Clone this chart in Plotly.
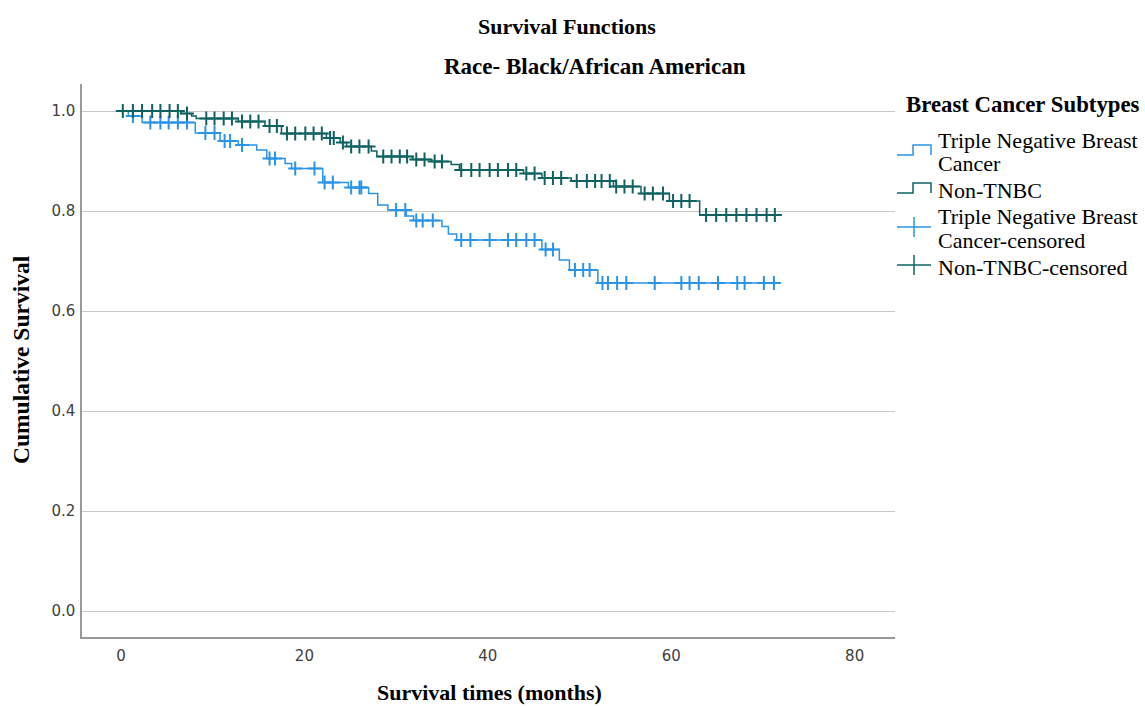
import plotly.graph_objects as go

# ---------------- data ----------------
tnbc_event_times = [0.8, 2.3, 8.1, 10.8, 12.8, 14.8, 15.9, 17.9, 18.6, 22.0, 24.8, 27.0, 28.0,
                    29.1, 31.1, 31.9, 35.0, 35.7, 36.6, 45.9, 47.8, 48.9, 52.0]
tnbc_surv = [0.990, 0.977, 0.956, 0.940, 0.932, 0.922, 0.905, 0.895, 0.885, 0.857, 0.847, 0.835, 0.812,
             0.802, 0.790, 0.781, 0.769, 0.754, 0.742, 0.723, 0.702, 0.682, 0.656]
tnbc_censor_times = [1.3, 3.2, 4.3, 5.2, 6.2, 7.2, 9.2, 10.2, 11.3, 11.9, 13.2, 16.2, 16.8, 19.0, 21.1,
                     22.2, 23.1, 25.1, 26.0, 26.2, 30.0, 31.0, 32.2, 32.9, 34.0, 37.1, 38.1, 40.2,
                     42.2, 43.1, 44.2, 45.1, 46.3, 47.1, 49.5, 50.4, 51.1, 52.5, 53.1, 54.1, 55.1,
                     58.2, 61.1, 62.0, 63.0, 65.1, 67.2, 68.0, 70.1, 71.2]

non_event_times = [6.5, 7.7, 8.2, 12.8, 15.7, 17.5, 22.4, 23.9, 24.6, 27.3, 27.9, 31.8, 33.9, 36.0,
                   36.9, 43.9, 45.9, 49.1, 53.7, 56.7, 59.8, 63.1]
non_surv = [0.995, 0.990, 0.985, 0.979, 0.970, 0.955, 0.946, 0.937, 0.929, 0.920, 0.909, 0.903, 0.899,
            0.893, 0.882, 0.875, 0.866, 0.860, 0.849, 0.835, 0.820, 0.792]
non_censor_times = [0.2, 1.3, 2.3, 3.4, 4.3, 5.3, 6.2, 7.2, 9.3, 10.2, 11.2, 12.1, 13.2, 14.1, 15.0,
                    16.2, 17.0, 18.1, 19.0, 20.1, 21.0, 21.9, 22.8, 23.2, 24.2, 25.1, 26.0, 27.0,
                    28.6, 29.5, 30.4, 31.2, 32.2, 33.1, 34.2, 35.0, 37.1, 38.2, 39.1, 40.2, 41.1,
                    42.2, 43.1, 44.2, 45.1, 46.2, 47.1, 48.0, 49.7, 50.8, 51.7, 52.4, 53.3, 54.0,
                    54.9, 55.8, 57.1, 58.0, 59.1, 60.2, 61.1, 62.0, 63.8, 64.9, 66.0, 67.1, 68.2,
                    69.3, 70.4, 71.3]

x_ticks = [0, 20, 40, 60, 80]
y_ticks = [0.0, 0.2, 0.4, 0.6, 0.8, 1.0]

legend_title = "Breast Cancer Subtypes"
legend_labels = [["Triple Negative Breast", "Cancer"],
                 ["Non-TNBC"],
                 ["Triple Negative Breast", "Cancer-censored"],
                 ["Non-TNBC-censored"]]

TNBC_COLOR = "#2a94e8"
NON_COLOR = "#0e6360"
SERIF = "Liberation Serif, Times New Roman, serif"
SANS = "DejaVu Sans, Verdana, sans-serif"

W, H = 1145, 707
ML, MR, MT, MB = 82, 250, 84, 70
PW, PH = W - ML - MR, H - MT - MB


def px_x(px):
    return (px - ML) / PW


def px_y(py):
    return (H - MB - py) / PH


def surv_at(t, times, surv):
    s = 1.0
    for ti, si in zip(times, surv):
        if ti <= t:
            s = si
    return s


def step_xy(times, surv, censors):
    end = max(censors + times)
    xs = [0.0] + list(times) + [end]
    ys = [1.0] + list(surv) + [surv[-1]]
    return xs, ys


fig = go.Figure()

tx, ty = step_xy(tnbc_event_times, tnbc_surv, tnbc_censor_times)
nx, ny = step_xy(non_event_times, non_surv, non_censor_times)

fig.add_trace(go.Scatter(x=tx, y=ty, mode="lines", line=dict(shape="hv", color=TNBC_COLOR, width=1.5),
                         name="Triple Negative Breast Cancer"))
fig.add_trace(go.Scatter(x=nx, y=ny, mode="lines", line=dict(shape="hv", color=NON_COLOR, width=1.5),
                         name="Non-TNBC"))
fig.add_trace(go.Scatter(x=tnbc_censor_times,
                         y=[surv_at(t, tnbc_event_times, tnbc_surv) for t in tnbc_censor_times],
                         mode="markers",
                         marker=dict(symbol="cross-thin", size=10, line=dict(color=TNBC_COLOR, width=2)),
                         name="Triple Negative Breast Cancer-censored"))
fig.add_trace(go.Scatter(x=non_censor_times,
                         y=[surv_at(t, non_event_times, non_surv) for t in non_censor_times],
                         mode="markers",
                         marker=dict(symbol="cross-thin", size=10, line=dict(color=NON_COLOR, width=2)),
                         name="Non-TNBC-censored"))

fig.update_layout(
    width=W, height=H,
    margin=dict(l=ML, r=MR, t=MT, b=MB),
    paper_bgcolor="white", plot_bgcolor="white",
    showlegend=False,
)


def label(text, px, py, size=22, bold=True, angle=0, xanchor="center"):
    fig.add_annotation(text=f"<b>{text}</b>" if bold else text, x=px_x(px), y=px_y(py),
                       xref="paper", yref="paper", showarrow=False, textangle=angle,
                       xanchor=xanchor, yanchor="middle",
                       font=dict(family=SERIF, size=size, color="black"))


label("Survival Functions", 567, 26, size=22)
label("Race- Black/African American", 595, 67, size=23)
label("Survival times (months)", 489, 692, size=22)
label("Cumulative Survival", 21, 360, size=23.5, angle=-90)

# ---------- manual legend (step / cross symbols like the original) ----------
label(legend_title, 904, 105, size=22.8, xanchor="left")
text_rows = [[140, 163], [190], [217, 240], [267]]
for lines, rows in zip(legend_labels, text_rows):
    for t, r in zip(lines, rows):
        label(t, 936, r, size=22, bold=False, xanchor="left")


def path_from(points):
    return "M " + " L ".join(f"{px_x(a)},{px_y(b)}" for a, b in points)


for yb, color in [(155, TNBC_COLOR), (193, NON_COLOR)]:
    fig.add_shape(type="path", xref="paper", yref="paper",
                  path=path_from([(897, yb), (913, yb), (913, yb - 10), (931, yb - 10), (931, yb)]),
                  line=dict(color=color, width=1.5))
for yc, color in [(227, TNBC_COLOR), (265, NON_COLOR)]:
    fig.add_shape(type="line", xref="paper", yref="paper",
                  x0=px_x(897), x1=px_x(931), y0=px_y(yc), y1=px_y(yc), line=dict(color=color, width=1.5))
    fig.add_shape(type="line", xref="paper", yref="paper",
                  x0=px_x(914), x1=px_x(914), y0=px_y(yc - 10), y1=px_y(yc + 10), line=dict(color=color, width=1.5))

fig.update_xaxes(range=[-4.25, 84.4], tickvals=x_ticks, ticktext=[str(v) for v in x_ticks],
                 showgrid=False, zeroline=False, showline=True, linecolor="#9a9a9a", linewidth=1.5,
                 ticks="outside", ticklen=4, tickcolor="rgba(0,0,0,0)",
                 tickfont=dict(family=SANS, size=15, color="#404040"))
fig.update_yaxes(range=[-0.052, 1.054], tickvals=y_ticks, ticktext=[f"{v:.1f}" for v in y_ticks],
                 showgrid=True, gridcolor="#c8c8c8", gridwidth=1.2, zeroline=False,
                 showline=True, linecolor="#9a9a9a", linewidth=1.5,
                 ticks="outside", ticklen=2, tickcolor="rgba(0,0,0,0)",
                 tickfont=dict(family=SANS, size=15, color="#404040"))

fig.write_html("out.html", config={"displayModeBar": False},
               post_script="document.body.style.margin='0';document.body.style.overflow='hidden';")
